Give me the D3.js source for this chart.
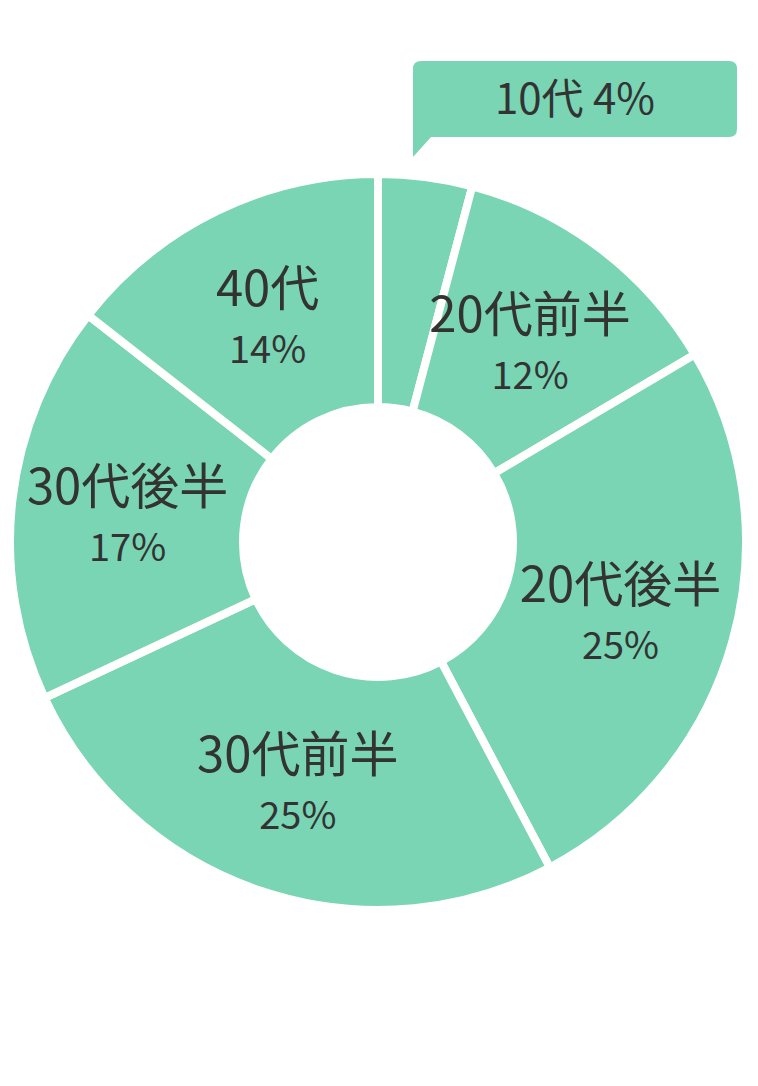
<!DOCTYPE html>
<html>
<head>
    <meta charset="utf-8">
    <title>年代別 割合</title>
    <script src="https://d3js.org/d3.v7.min.js"></script>
    <style>
      body {
        margin: 0;
        background: #fff;
      }
      text {
        font-family: "Noto Sans CJK JP", "Noto Sans", sans-serif;
        fill: #333;
      }
    </style>
</head>

<body>
<div id="chart"></div>
<script type="text/javascript">
    // データ
    let ages = ["10代", "20代前半", "20代後半", "30代前半", "30代後半", "40代"];
    let percents = [4, 12, 25, 25, 17, 14];

    let w = 758;
    let h = 1086;
    let cx = 378;
    let cy = 542;
    let outerR = 368;
    let innerR = 135;
    let labelR = 252;
    let green = "#79d5b3";

    let svg = d3.select("#chart")
            .append("svg")
                .attr("width", w)
                .attr("height", h);

    let g = svg.append("g")
            .attr("transform", "translate(" + cx + "," + cy + ")");

    let dataset = ages.map((a, i) => ({age: a, value: percents[i]}));

    let pie = d3.pie()
            .sort(null)
            .value(d => d.value);

    let arc = d3.arc()
            .innerRadius(innerR)
            .outerRadius(outerR);

    let labelArc = d3.arc()
            .innerRadius(labelR)
            .outerRadius(labelR);

    let arcs = pie(dataset);

    g.selectAll("path.slice")
        .data(arcs)
        .enter()
        .append("path")
            .attr("class", "slice")
            .attr("d", arc)
            .attr("fill", green)
            .attr("stroke", "#fff")
            .attr("stroke-width", 8);

    // 10代 以外はスライスの中にラベル
    let inside = arcs.filter(d => d.index > 0);

    let labels = g.selectAll("g.label")
        .data(inside)
        .enter()
        .append("g")
            .attr("class", "label")
            .attr("transform", d => "translate(" + labelArc.centroid(d) + ")");

    labels.append("text")
        .attr("text-anchor", "middle")
        .attr("y", -9)
        .attr("font-size", "49px")
        .text(d => d.data.age);

    labels.append("text")
        .attr("text-anchor", "middle")
        .attr("y", 48)
        .attr("font-size", "38px")
        .text(d => d.data.value + "%");

    // 10代 は吹き出し
    let first = arcs[0];
    let bx = 35, by = -481, bw = 324, bh = 76, br = 8;
    let bubble = g.append("g");

    bubble.append("path")
        .attr("d",
            "M" + (bx + br) + "," + by +
            " H" + (bx + bw - br) +
            " Q" + (bx + bw) + "," + by + " " + (bx + bw) + "," + (by + br) +
            " V" + (by + bh - br) +
            " Q" + (bx + bw) + "," + (by + bh) + " " + (bx + bw - br) + "," + (by + bh) +
            " H" + (bx + 18) +
            " L" + bx + "," + (by + bh + 20) +
            " V" + (by + br) +
            " Q" + bx + "," + by + " " + (bx + br) + "," + by + " Z")
        .attr("fill", green);

    bubble.append("text")
        .attr("text-anchor", "middle")
        .attr("x", bx + bw / 2)
        .attr("y", by + 53)
        .attr("font-size", "42px")
        .text(first.data.age + " " + first.data.value + "%");
</script>
</body>
</html>
